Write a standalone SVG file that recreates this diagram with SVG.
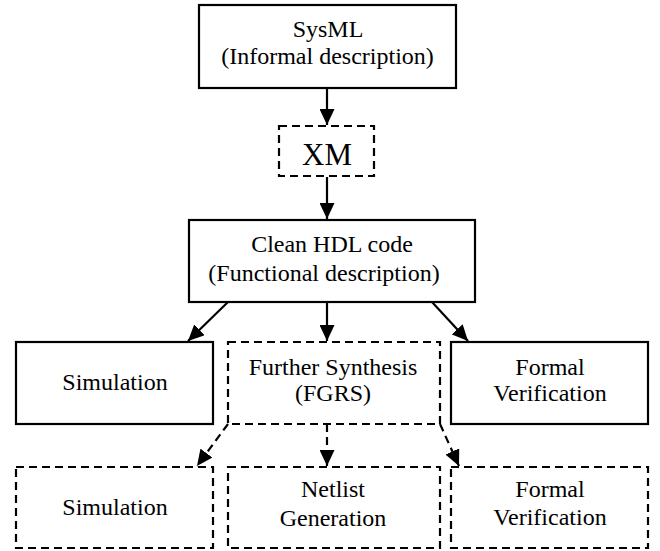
<svg xmlns="http://www.w3.org/2000/svg" width="660" height="551" viewBox="0 0 660 551" font-family="'Liberation Serif', Tinos, 'Times New Roman', 'Nimbus Roman', 'DejaVu Serif', serif">
<style>
.box{fill:#fff;stroke:#000;stroke-width:2.2}
.dash{fill:#fff;stroke:#000;stroke-width:2.2;stroke-dasharray:8 5}
text{font-family:'Liberation Serif', Tinos, 'Times New Roman', 'Nimbus Roman', 'DejaVu Serif', serif;font-size:24px;fill:#000;text-anchor:middle}
.conn{stroke:#000;stroke-width:2.2;fill:none;marker-end:url(#ah)}
.dconn{stroke:#000;stroke-width:2.2;fill:none;stroke-dasharray:8 5;marker-end:url(#ah)}
</style>
<defs>
<marker id="ah" markerUnits="userSpaceOnUse" markerWidth="16" markerHeight="15" refX="16" refY="7.5" orient="auto">
<path d="M0,0 L16,7.5 L0,15 z" fill="#000"/>
</marker>
</defs>
<g id="connectors">
<line class="conn" x1="327" y1="89" x2="327" y2="125"/>
<line class="conn" x1="327" y1="177" x2="327" y2="219"/>
<line class="conn" x1="228" y1="302" x2="188" y2="341"/>
<line class="conn" x1="327" y1="302" x2="327" y2="341"/>
<line class="conn" x1="432" y1="302" x2="468" y2="341"/>
<line class="dconn" x1="228" y1="424" x2="197" y2="466"/>
<line class="dconn" x1="327" y1="424" x2="327" y2="466"/>
<line class="dconn" x1="440" y1="424" x2="459" y2="466"/>
</g>
<g id="sysml">
<rect class="box" x="199" y="5" width="257" height="83"/>
<text x="328" y="37">SysML</text>
<text x="327.5" y="64">(Informal description)</text>
</g>
<g id="xm">
<rect class="dash" x="279" y="126" width="95" height="50"/>
<text x="327" y="165" style="font-size:31px">XM</text>
</g>
<g id="clean">
<rect class="box" x="189" y="220" width="286" height="82"/>
<text x="332" y="252">Clean HDL code</text>
<text x="324" y="281">(Functional description)</text>
</g>
<g id="sim1">
<rect class="box" x="16" y="342" width="197" height="82"/>
<text x="115" y="390">Simulation</text>
</g>
<g id="fgrs">
<rect class="dash" x="228" y="342" width="212" height="82"/>
<text x="333" y="375">Further Synthesis</text>
<text x="333" y="401">(FGRS)</text>
</g>
<g id="formal1">
<rect class="box" x="451" y="342" width="197" height="82"/>
<text x="550" y="375">Formal</text>
<text x="550" y="401">Verification</text>
</g>
<g id="sim2">
<rect class="dash" x="16" y="467" width="197" height="81"/>
<text x="115" y="515">Simulation</text>
</g>
<g id="netlist">
<rect class="dash" x="228" y="467" width="212" height="81"/>
<text x="333" y="497">Netlist</text>
<text x="333" y="526">Generation</text>
</g>
<g id="formal2">
<rect class="dash" x="451" y="467" width="197" height="81"/>
<text x="550" y="497">Formal</text>
<text x="550" y="525">Verification</text>
</g>
</svg>
